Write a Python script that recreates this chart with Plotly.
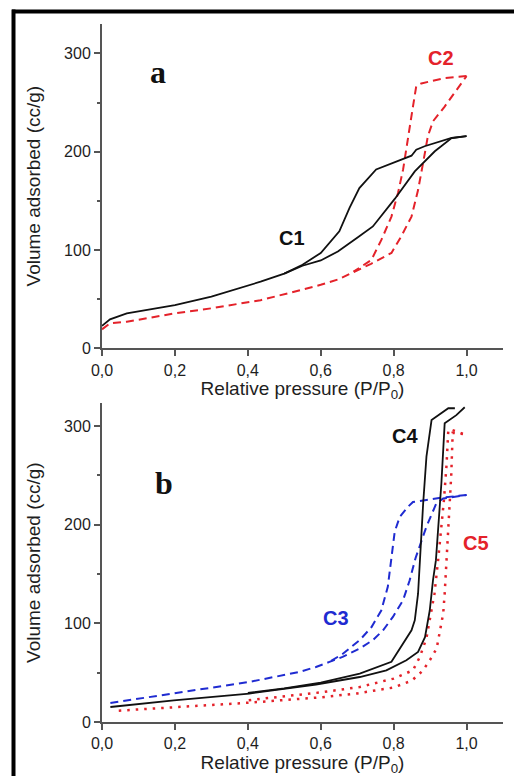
# Nitrogen isotherms, two panels (a: C1, C2 / b: C3, C4, C5)
import plotly.graph_objects as go

# ---- panel a ----
c1_ads_x = [0.0, 0.022, 0.068, 0.2, 0.3, 0.435, 0.5, 0.55, 0.6, 0.647, 0.702, 0.743, 0.803, 0.858, 0.913, 0.959, 1.0]
c1_ads_y = [22.8, 29.5, 35.6, 44, 52.5, 67.8, 76, 84, 89.4, 98.5, 113, 124, 152, 180, 200.5, 214, 215.8]
c1_des_x = [1.0, 0.959, 0.885, 0.862, 0.849, 0.8, 0.752, 0.706, 0.679, 0.651, 0.6, 0.55, 0.5]
c1_des_y = [215.8, 214, 205.6, 202, 196, 188.6, 182, 163, 143, 119, 97, 85, 76]

c2_ads_x = [0.0, 0.022, 0.068, 0.2, 0.3, 0.435, 0.518, 0.6, 0.647, 0.693, 0.738, 0.794, 0.821, 0.849, 0.867, 0.881, 0.894, 0.908, 0.94, 1.0]
c2_ads_y = [19.3, 25.4, 27, 35.6, 40.7, 49, 56.7, 64.6, 70, 78, 86, 97, 114, 134, 161, 189, 216, 231, 246, 277]
c2_des_x = [1.0, 0.94, 0.876, 0.862, 0.853, 0.844, 0.835, 0.826, 0.812, 0.794, 0.766, 0.739, 0.711, 0.69]
c2_des_y = [277, 275, 269.5, 266.7, 246, 226, 205.6, 182, 158, 134, 110, 90, 83, 78]

# ---- panel b ----
c3_ads_x = [0.023, 0.197, 0.404, 0.541, 0.587, 0.624, 0.66, 0.707, 0.743, 0.771, 0.798, 0.826, 0.844, 0.86, 0.89, 0.917, 0.936, 1.0]
c3_ads_y = [19.3, 28.8, 40.6, 50.7, 55.8, 60.9, 66, 74.5, 83, 93, 106.5, 123.5, 143.7, 166, 198, 221.5, 226.6, 230]
c3_des_x = [1.0, 0.936, 0.89, 0.853, 0.839, 0.817, 0.803, 0.794, 0.784, 0.766, 0.739, 0.707, 0.66, 0.624]
c3_des_y = [230, 227.6, 225, 223, 218, 208, 193, 167, 137, 113, 96, 83, 69, 60.9]

c4_ads_x = [0.023, 0.197, 0.404, 0.587, 0.707, 0.78, 0.835, 0.867, 0.886, 0.899, 0.908, 0.916, 0.931, 0.94, 0.972, 0.995]
c4_ads_y = [15.2, 22, 28.8, 38, 45.6, 52.4, 62.6, 71, 86, 113, 143.7, 164, 242, 302.7, 311, 319]
c4_des_x = [0.968, 0.95, 0.904, 0.89, 0.881, 0.872, 0.867, 0.858, 0.849, 0.794, 0.707, 0.6, 0.5, 0.4]
c4_des_y = [318, 318, 306, 269, 221.5, 164, 130, 103, 93, 61, 49, 40, 34, 29.5]

c5_ads_x = [0.046, 0.2, 0.4, 0.6, 0.7, 0.8, 0.85, 0.88, 0.9, 0.918, 0.927, 0.936, 0.94, 0.945, 0.952, 0.958, 0.962, 0.99]
c5_ads_y = [11.5, 15, 19.5, 25, 29, 35, 42, 52, 63, 74.5, 91, 110, 130, 164, 200, 250, 293, 292]
c5_des_x = [0.99, 0.96, 0.95, 0.945, 0.938, 0.93, 0.922, 0.912, 0.9, 0.89, 0.872, 0.853, 0.8, 0.707, 0.6, 0.5, 0.4]
c5_des_y = [292, 296, 296, 260, 225, 191, 164, 130, 103, 85, 66, 52.4, 44, 35.5, 30, 26, 22]

x_ticks = [0, 0.2, 0.4, 0.6, 0.8, 1.0]
x_ticktext = ["0,0", "0,2", "0,4", "0,6", "0,8", "1,0"]
y_ticks = [0, 100, 200, 300]

RED = "#e4222a"
BLUE = "#1f2bd1"
BLACK = "#111111"

W, H = 514, 776
ML, MR, MT, MB = 102, 11, 24, 54
PW, PH = W - ML - MR, H - MT - MB

def px_x(p):
    # page pixel -> paper x
    return (p - ML) / PW

def px_y(p):
    # page pixel (from top) -> paper y
    return (H - MB - p) / PH

fig = go.Figure()

def add(x, y, color, dash, width, xa, ya):
    fig.add_trace(go.Scatter(x=x, y=y, mode="lines", xaxis=xa, yaxis=ya,
                             line=dict(color=color, dash=dash, width=width),
                             showlegend=False, hoverinfo="skip"))

add(c2_ads_x, c2_ads_y, RED, "8px,5px", 2, "x", "y")
add(c2_des_x, c2_des_y, RED, "8px,5px", 2, "x", "y")
add(c1_ads_x, c1_ads_y, BLACK, "solid", 1.8, "x", "y")
add(c1_des_x, c1_des_y, BLACK, "solid", 1.8, "x", "y")

add(c5_ads_x, c5_ads_y, RED, "2.5px,6px", 2.5, "x2", "y2")
add(c5_des_x, c5_des_y, RED, "2.5px,6px", 2.5, "x2", "y2")
add(c3_ads_x, c3_ads_y, BLUE, "8px,5px", 2, "x2", "y2")
add(c3_des_x, c3_des_y, BLUE, "8px,5px", 2, "x2", "y2")
add(c4_ads_x, c4_ads_y, BLACK, "solid", 1.8, "x2", "y2")
add(c4_des_x, c4_des_y, BLACK, "solid", 1.8, "x2", "y2")

tick_font = dict(family="Liberation Sans, Arial", size=16, color="#1e1e1e")
title_font = dict(family="Liberation Sans, Arial", size=19, color="#1e1e1e")

xcommon = dict(range=[0, 1.1], tickvals=x_ticks, ticktext=x_ticktext, automargin=False,
               showline=True, linecolor="#555555", linewidth=2,
               ticks="outside", ticklen=6, tickwidth=2, tickcolor="#555555",
               showgrid=False, zeroline=False, tickfont=tick_font,
               title=dict(text="Relative pressure (P/P<sub>0</sub>)", font=title_font, standoff=4))
ycommon = dict(tickvals=y_ticks, automargin=False,
               showline=True, linecolor="#555555", linewidth=2,
               ticks="outside", ticklen=6, tickwidth=2, tickcolor="#555555",
               minor=dict(ticks="outside", ticklen=3, tickwidth=1.5, tickcolor="#555555",
                          tickvals=[50, 150, 250]),
               showgrid=False, zeroline=False, tickfont=tick_font,
               title=dict(text="Volume adsorbed (cc/g)", font=title_font, standoff=18))

fig.update_layout(
    width=W, height=H,
    margin=dict(l=ML, r=MR, t=MT, b=MB),
    paper_bgcolor="white", plot_bgcolor="white",
    xaxis=dict(domain=[0, 1], anchor="y", **xcommon),
    yaxis=dict(domain=[px_y(348.3), 1.0], anchor="x", range=[0, 330], **ycommon),
    xaxis2=dict(domain=[0, 1], anchor="y2", **xcommon),
    yaxis2=dict(domain=[0, px_y(403.3)], anchor="x2", range=[0, 323], **ycommon),
)

labels = [
    ("a", 0.154, 281, "x", "y", BLACK, "Liberation Serif, Times New Roman", 32),
    ("C1", 0.52, 112, "x", "y", BLACK, "Liberation Sans, Arial", 20),
    ("C2", 0.93, 295, "x", "y", RED, "Liberation Sans, Arial", 20),
    ("b", 0.17, 242, "x2", "y2", BLACK, "Liberation Serif, Times New Roman", 32),
    ("C3", 0.643, 105, "x2", "y2", BLUE, "Liberation Sans, Arial", 20),
    ("C4", 0.83, 290, "x2", "y2", BLACK, "Liberation Sans, Arial", 20),
    ("C5", 1.026, 181, "x2", "y2", RED, "Liberation Sans, Arial", 20),
]
for txt, lx, ly, xr, yr, col, fam, sz in labels:
    fig.add_annotation(x=lx, y=ly, xref=xr, yref=yr, text="<b>%s</b>" % txt,
                       showarrow=False, font=dict(family=fam, size=sz, color=col))

# outer frame: top and left edges only
fig.add_shape(type="line", xref="paper", yref="paper", x0=px_x(12), x1=px_x(W),
              y0=px_y(11.5), y1=px_y(11.5), line=dict(color="black", width=4))
fig.add_shape(type="line", xref="paper", yref="paper", x0=px_x(13.5), x1=px_x(13.5),
              y0=px_y(H), y1=px_y(9.5), line=dict(color="black", width=4))

# drop the page margin so the 514x776 figure fills the window exactly
fig.write_html("out.html", config={"displayModeBar": False},
               post_script="document.body.style.margin='0px';document.body.style.overflow='hidden';")
